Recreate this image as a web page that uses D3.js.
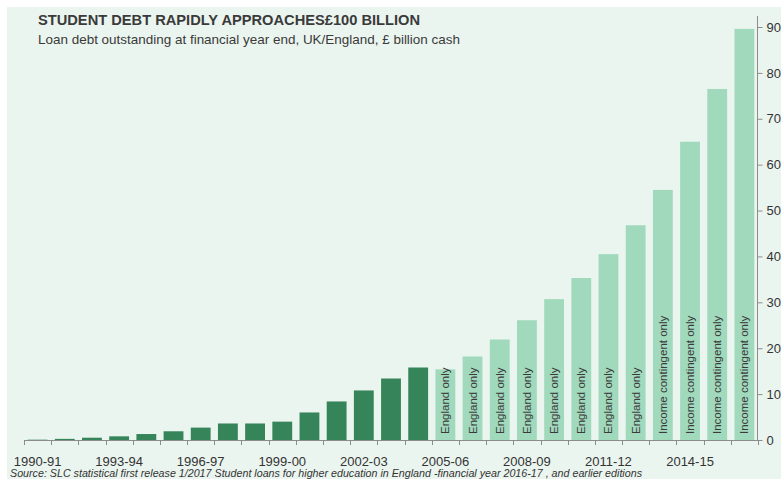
<!DOCTYPE html>
<html>
<head>
<meta charset="utf-8">
<script src="https://cdn.jsdelivr.net/npm/d3@7"></script>
<style>
  html, body { margin: 0; padding: 0; background: #ffffff; }
  text { font-family: "Liberation Sans", Arial, sans-serif; }
</style>
</head>
<body>
<svg id="chart" width="781" height="479"></svg>
<script>
const years = ["1990-91","1991-92","1992-93","1993-94","1994-95","1995-96","1996-97","1997-98","1998-99","1999-00","2000-01","2001-02","2002-03","2003-04","2004-05","2005-06","2006-07","2007-08","2008-09","2009-10","2010-11","2011-12","2012-13","2013-14","2014-15","2015-16","2016-17"];
const debt = [0.07,0.25,0.5,0.8,1.3,1.9,2.7,3.6,3.6,4.0,6.0,8.4,10.8,13.4,15.8,15.4,18.2,21.9,26.1,30.7,35.3,40.5,46.8,54.5,65.0,76.5,89.6];
const coverage = ["UK","UK","UK","UK","UK","UK","UK","UK","UK","UK","UK","UK","UK","UK","UK","England only","England only","England only","England only","England only","England only","England only","England only","Income contingent only","Income contingent only","Income contingent only","Income contingent only"];
const yTicks = [0,10,20,30,40,50,60,70,80,90];
const xLabels = ["1990-91","1993-94","1996-97","1999-00","2002-03","2005-06","2008-09","2011-12","2014-15"];
const title = "STUDENT DEBT RAPIDLY APPROACHES\u00A3100 BILLION";
const subtitle = "Loan debt outstanding at financial year end, UK/England, \u00A3 billion cash";
const source = "Source: SLC statistical first release 1/2017 Student loans for higher education in England -financial year 2016-17 , and earlier editions";

const svg = d3.select("#chart");
const W = 781, H = 479;
const mLeft = 24, mRight = 758, mTop = 27, mBottom = 440;

svg.append("rect").attr("x", 7).attr("y", 7).attr("width", W - 7).attr("height", H - 7).attr("fill", "#ebf5ef");

const x = d3.scaleBand().domain(years).range([mLeft, mRight]).paddingInner(0.27).paddingOuter(0.135);
const y = d3.scaleLinear().domain([0, 90]).range([mBottom, mTop]);

const darkC = "#35845a", lightC = "#a1d9bd";

svg.append("g").selectAll("rect").data(years).join("rect")
  .attr("x", d => x(d))
  .attr("width", x.bandwidth())
  .attr("y", (d, i) => y(debt[i]))
  .attr("height", (d, i) => mBottom - y(debt[i]))
  .attr("fill", (d, i) => coverage[i] === "UK" ? darkC : lightC);

// in-bar labels
svg.append("g").selectAll("text").data(years.filter((d, i) => coverage[i] !== "UK")).join("text")
  .attr("transform", d => `translate(${x(d) + x.bandwidth() / 2 + 4},${mBottom - 6}) rotate(-90)`)
  .attr("font-size", 11.5)
  .attr("fill", "#3a3a3a")
  .text(d => coverage[years.indexOf(d)]);

// bottom axis
const step = (mRight - mLeft) / years.length;
const gx = svg.append("g");
gx.append("line").attr("x1", mLeft).attr("x2", mRight).attr("y1", mBottom + 0.5).attr("y2", mBottom + 0.5)
  .attr("stroke", "#8c8c8c").attr("stroke-width", 1);
gx.selectAll("line.tk").data(d3.range(years.length + 1)).join("line").attr("class", "tk")
  .attr("x1", i => Math.round(mLeft + i * step) + 0.5).attr("x2", i => Math.round(mLeft + i * step) + 0.5)
  .attr("y1", mBottom).attr("y2", mBottom + 5)
  .attr("stroke", "#8c8c8c").attr("stroke-width", 1);
gx.selectAll("text").data(xLabels).join("text")
  .attr("x", d => x(d) + x.bandwidth() / 2)
  .attr("y", 466)
  .attr("text-anchor", "middle")
  .attr("font-size", 13)
  .attr("fill", "#333")
  .text(d => d);

// right axis
const axisR = d3.axisRight(y).tickValues(yTicks).tickSize(5).tickPadding(4).tickFormat(d3.format("d"));
const gy = svg.append("g").attr("transform", `translate(${mRight - 0.5},0)`).call(axisR);
gy.select(".domain").attr("d", `M0,16V${mBottom}`).attr("stroke", "#8c8c8c");
gy.selectAll(".tick line").attr("stroke", "#8c8c8c");
gy.selectAll(".tick text").attr("font-size", 13).attr("fill", "#333").attr("font-family", "Liberation Sans, Arial, sans-serif");

// titles
svg.append("text").attr("x", 38).attr("y", 25).attr("font-size", 14).attr("font-weight", "bold")
  .attr("fill", "#3a3a3a").attr("textLength", 382).attr("lengthAdjust", "spacingAndGlyphs").text(title);
svg.append("text").attr("x", 38).attr("y", 44).attr("font-size", 13)
  .attr("fill", "#3a3a3a").attr("textLength", 422).attr("lengthAdjust", "spacingAndGlyphs").text(subtitle);
svg.append("text").attr("x", 10).attr("y", 477).attr("font-size", 10).attr("font-style", "italic")
  .attr("fill", "#333").attr("textLength", 632).attr("lengthAdjust", "spacingAndGlyphs").text(source);
</script>
</body>
</html>
